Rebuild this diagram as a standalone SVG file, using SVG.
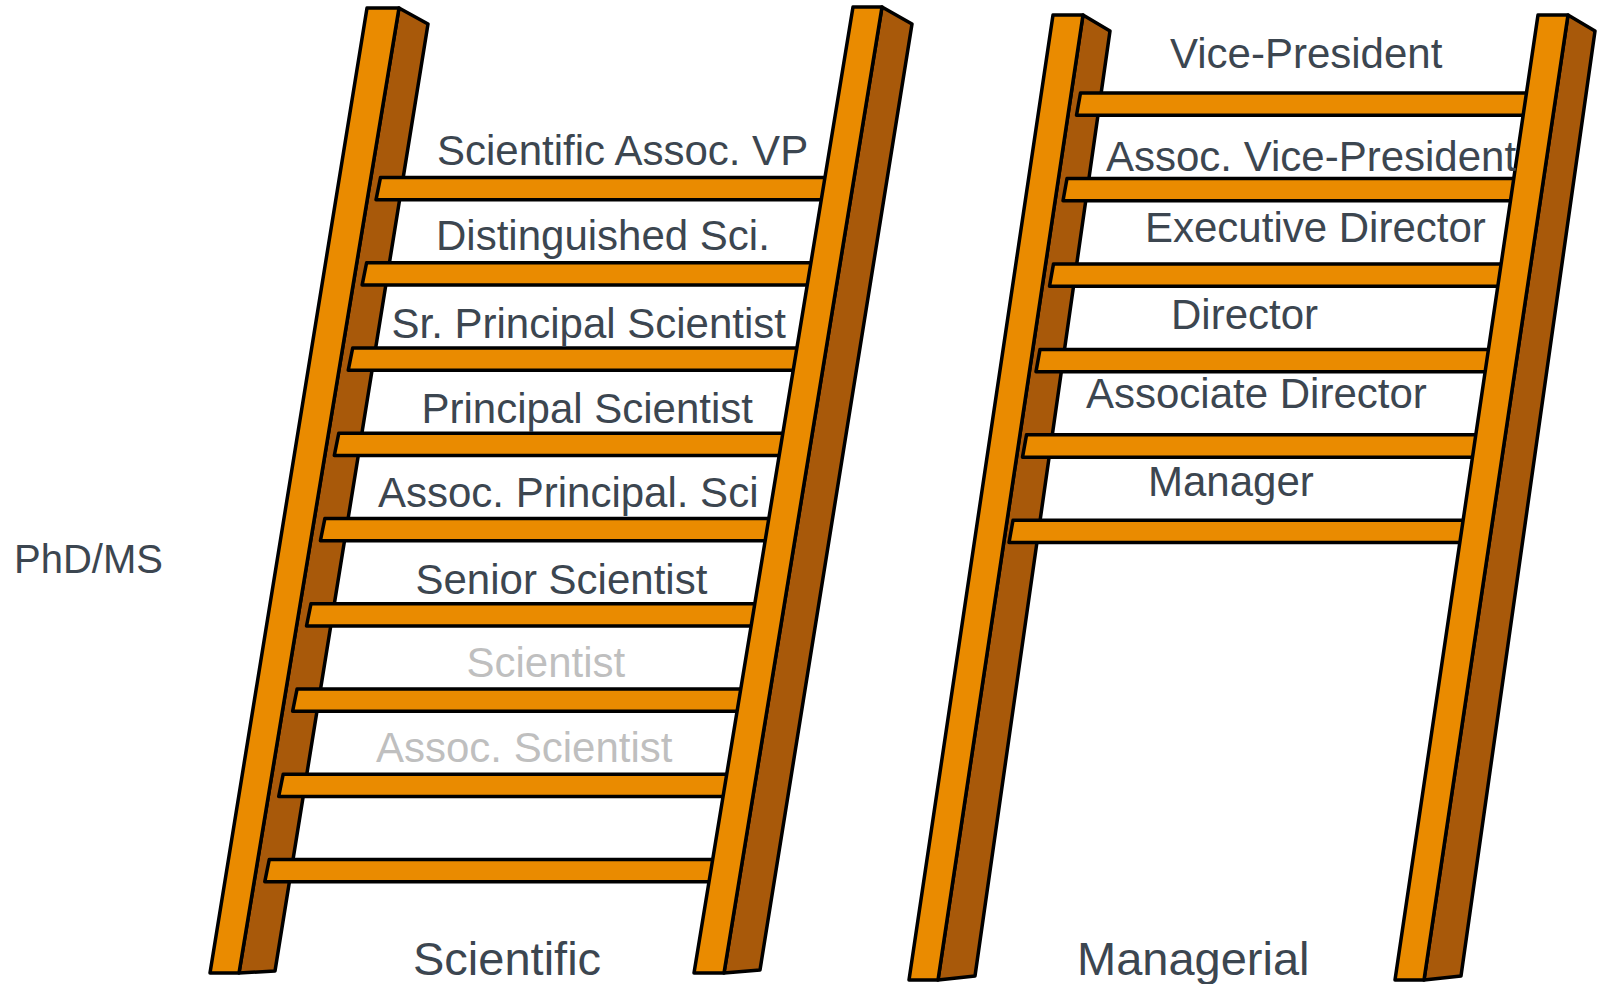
<svg xmlns="http://www.w3.org/2000/svg" xmlns:xlink="http://www.w3.org/1999/xlink" width="1597" height="984" viewBox="0 0 1597 984">
<style>
.front{fill:#EA8B00;stroke:#000;stroke-width:3.5;stroke-linejoin:round}
.side{fill:#A8590A;stroke:#000;stroke-width:3.5;stroke-linejoin:round}
.rung{fill:#EA8B00;stroke:#000;stroke-width:3.5;stroke-linejoin:round}
.lbl{font-family:"Liberation Sans",Arial,sans-serif;font-size:42px;fill:#3C4650}
.dim{fill:#BFBFBF}
.cap{font-family:"Liberation Sans",Arial,sans-serif;font-size:47px;fill:#3C4650}
</style>
<defs>
<polygon id="rungL" class="rung" points="380.5,177.5 834,177.5 830,199.8 376,199.8"/>
<polygon id="rungR" class="rung" points="1080.5,93 1534,93 1530,115.3 1076.5,115.3"/>
</defs>
<rect width="1597" height="984" fill="#fff"/>
<g id="scientific-ladder">
<polygon class="side" points="399,8 428,24 275,971 239,973"/>
<polygon class="front" points="367,8 399,8 239,973 210,973"/>
<use xlink:href="#rungL"/>
<use xlink:href="#rungL" transform="translate(-13.9,85.24)"/>
<use xlink:href="#rungL" transform="translate(-27.8,170.48)"/>
<use xlink:href="#rungL" transform="translate(-41.7,255.72)"/>
<use xlink:href="#rungL" transform="translate(-55.6,340.96)"/>
<use xlink:href="#rungL" transform="translate(-69.5,426.2)"/>
<use xlink:href="#rungL" transform="translate(-83.4,511.44)"/>
<use xlink:href="#rungL" transform="translate(-97.3,596.68)"/>
<use xlink:href="#rungL" transform="translate(-111.2,681.92)"/>
<polygon class="side" points="882,7 912,24 760,970 724,973"/>
<polygon class="front" points="853,7 882,7 724,973 694,973"/>
</g>
<g id="managerial-ladder">
<polygon class="side" points="1083,15 1110,31 975,976 938,980"/>
<polygon class="front" points="1053,15 1083,15 938,980 909,980"/>
<use xlink:href="#rungR"/>
<use xlink:href="#rungR" transform="translate(-13.5,85.46)"/>
<use xlink:href="#rungR" transform="translate(-27,170.92)"/>
<use xlink:href="#rungR" transform="translate(-40.5,256.38)"/>
<use xlink:href="#rungR" transform="translate(-54,341.84)"/>
<use xlink:href="#rungR" transform="translate(-67.5,427.3)"/>
<polygon class="side" points="1568,15 1595,31 1461,976 1424,980"/>
<polygon class="front" points="1538,15 1568,15 1424,980 1395,980"/>
</g>
<g id="scientific-labels">
<text class="lbl" x="437" y="164.5">Scientific Assoc. VP</text>
<text class="lbl" x="436" y="249.5">Distinguished Sci.</text>
<text class="lbl" x="391.5" y="338.3">Sr. Principal Scientist</text>
<text class="lbl" x="421.5" y="422.7">Principal Scientist</text>
<text class="lbl" x="378" y="507">Assoc. Principal. Sci</text>
<text class="lbl" x="415.5" y="593.8">Senior Scientist</text>
<text class="lbl dim" x="466.5" y="677.3">Scientist</text>
<text class="lbl dim" x="376" y="761.8">Assoc. Scientist</text>
</g>
<g id="managerial-labels">
<text class="lbl" x="1170" y="68.3">Vice-President</text>
<text class="lbl" x="1106" y="170.5">Assoc. Vice-President</text>
<text class="lbl" x="1145" y="241.5">Executive Director</text>
<text class="lbl" x="1171" y="329">Director</text>
<text class="lbl" x="1086" y="407.5">Associate Director</text>
<text class="lbl" x="1148" y="496">Manager</text>
</g>
<g id="captions">
<text class="lbl" x="14" y="572.5" style="font-size:40px">PhD/MS</text>
<text class="cap" x="413" y="975">Scientific</text>
<text class="cap" x="1077" y="975">Managerial</text>
</g>
</svg>
